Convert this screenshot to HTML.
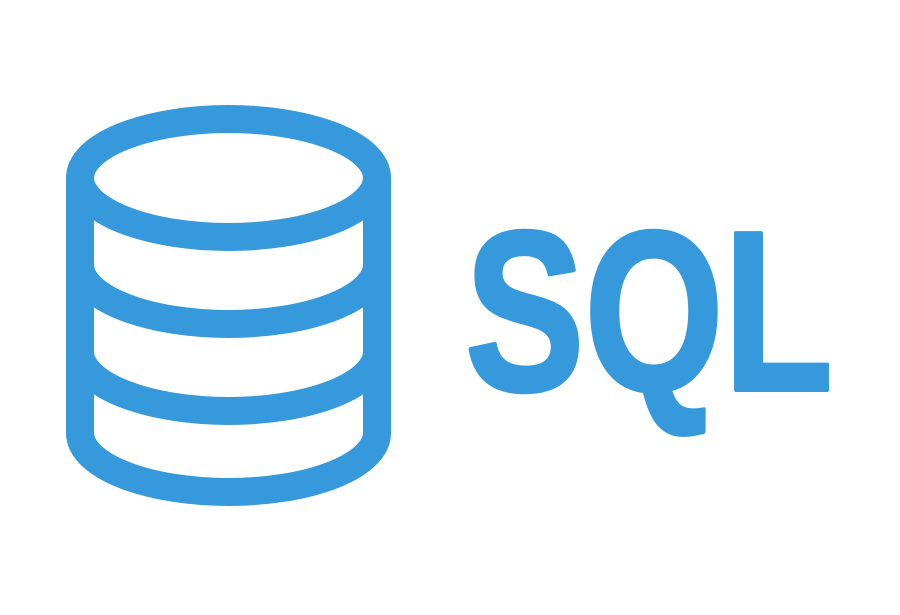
<!DOCTYPE html>
<html><head><meta charset="utf-8"><style>
html,body{margin:0;padding:0;background:#fff;width:900px;height:615px;overflow:hidden}
</style></head><body>
<svg width="900" height="615" viewBox="0 0 900 615" xmlns="http://www.w3.org/2000/svg">
<g fill="none" stroke="#3599db" stroke-width="28" stroke-linejoin="round">
<ellipse cx="228.5" cy="178" rx="148.5" ry="59"/>
<path d="M80 178 V433 A148.5 59 0 0 0 377 433 V178"/>
<path d="M80 265 A148.5 59 0 0 0 377 265"/>
<path d="M80 352 A148.5 59 0 0 0 377 352"/>
</g>
<text x="465" y="390" textLength="368" lengthAdjust="spacingAndGlyphs" font-family="Liberation Sans, sans-serif" font-weight="bold" font-size="228" fill="#3599db" stroke="#3599db" stroke-width="4" stroke-linejoin="round">SQL</text>
</svg>
</body></html>
